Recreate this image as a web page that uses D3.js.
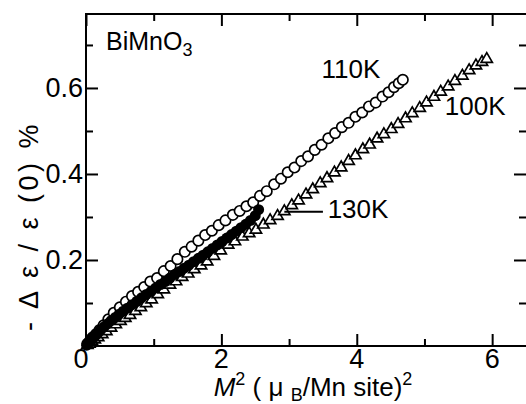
<!DOCTYPE html>
<html>
<head>
<meta charset="utf-8">
<script src="https://cdn.jsdelivr.net/npm/d3@7"></script>
<style>
  body { margin: 0; background: #fff; }
  text { font-family: "Liberation Sans", Arial, sans-serif; fill: #000; }
</style>
</head>
<body>
<div id="chart"></div>
<script>
// M^2 values and -d eps / eps(0) (%) for each temperature
var x110 = [0.02,0.06,0.10,0.15,0.20,0.26,0.33,0.41,0.50,0.59,0.68,0.77,0.86,0.95,1.05,1.15,1.25,1.35,1.46,1.56,1.66,1.76,1.86,1.96,2.06,2.17,2.27,2.37,2.47,2.57,2.67,2.78,2.88,2.98,3.08,3.18,3.28,3.38,3.48,3.58,3.68,3.78,3.88,3.98,4.08,4.18,4.28,4.38,4.47,4.55,4.62,4.68];
var y110 = [0.005,0.012,0.020,0.028,0.037,0.048,0.062,0.077,0.090,0.103,0.116,0.126,0.137,0.150,0.158,0.174,0.186,0.202,0.219,0.231,0.245,0.258,0.268,0.281,0.292,0.305,0.314,0.325,0.334,0.349,0.360,0.376,0.389,0.404,0.415,0.430,0.441,0.456,0.468,0.483,0.495,0.509,0.519,0.533,0.543,0.557,0.566,0.580,0.590,0.602,0.611,0.619];

var x100 = [0.02,0.05,0.09,0.13,0.18,0.24,0.30,0.37,0.44,0.51,0.58,0.65,0.73,0.81,0.89,0.97,1.06,1.15,1.24,1.33,1.42,1.51,1.60,1.70,1.79,1.89,1.99,2.10,2.20,2.31,2.41,2.51,2.62,2.72,2.83,2.93,3.04,3.14,3.25,3.35,3.46,3.56,3.67,3.77,3.88,3.98,4.09,4.19,4.30,4.40,4.51,4.61,4.72,4.82,4.93,5.03,5.14,5.24,5.35,5.45,5.56,5.66,5.76,5.85,5.92];
var y100 = [0.002,0.005,0.010,0.015,0.020,0.027,0.034,0.042,0.050,0.058,0.065,0.072,0.081,0.090,0.099,0.108,0.120,0.131,0.142,0.150,0.160,0.168,0.178,0.187,0.196,0.209,0.222,0.235,0.243,0.254,0.262,0.270,0.282,0.292,0.302,0.313,0.327,0.338,0.352,0.364,0.378,0.390,0.403,0.415,0.430,0.443,0.457,0.468,0.482,0.492,0.504,0.516,0.529,0.541,0.553,0.566,0.579,0.591,0.603,0.616,0.628,0.641,0.652,0.660,0.667];

var x130 = [0.01,0.03,0.05,0.08,0.11,0.14,0.18,0.22,0.27,0.32,0.37,0.43,0.49,0.55,0.61,0.68,0.75,0.82,0.89,0.96,1.03,1.10,1.17,1.24,1.31,1.38,1.45,1.52,1.59,1.66,1.73,1.80,1.87,1.94,2.01,2.08,2.15,2.22,2.29,2.36,2.43,2.50,2.55];
var y130 = [0.002,0.006,0.010,0.015,0.020,0.025,0.031,0.038,0.045,0.052,0.059,0.066,0.074,0.081,0.088,0.096,0.104,0.112,0.120,0.127,0.135,0.143,0.150,0.158,0.166,0.173,0.181,0.188,0.196,0.204,0.211,0.219,0.227,0.235,0.243,0.251,0.259,0.267,0.275,0.283,0.292,0.303,0.317];

var xMajor = [0, 2, 4, 6];
var xMinor = [1, 3, 5];
var yMajor = [0.2, 0.4, 0.6];
var yMinor = [0.1, 0.3, 0.5, 0.7];

var svgWidth = 526;
var svgHeight = 404;
var margin = {top: 14, right: 0, bottom: 58, left: 86};
var plotWidth = svgWidth - margin.left - margin.right;
var plotHeight = svgHeight - margin.top - margin.bottom;

var svg = d3.select("#chart")
    .append("svg")
    .attr("width", svgWidth)
    .attr("height", svgHeight);

var plot = svg.append("g")
    .attr("transform", `translate(${margin.left},${margin.top})`);

var scX = d3.scaleLinear().domain([0, 6.5]).range([0, plotWidth]);
var scY = d3.scaleLinear().domain([0, 0.772]).range([plotHeight, 0]);

function zip(xs, ys) { return xs.map((v, i) => ({x: v, y: ys[i]})); }

// frame
plot.append("rect")
    .attr("x", 0).attr("y", 0)
    .attr("width", plotWidth + 4).attr("height", plotHeight)
    .attr("fill", "none").attr("stroke", "#000").attr("stroke-width", 2);

// ticks (inward, all four sides)
function tickSet(axis, vals, len) {
  return axis.tickValues(vals).tickSizeInner(-len).tickSizeOuter(0).tickFormat("");
}
var axes = [
  [d3.axisBottom(scX), `translate(0,${plotHeight})`, xMajor, 12],
  [d3.axisBottom(scX), `translate(0,${plotHeight})`, xMinor, 7],
  [d3.axisTop(scX), "translate(0,0)", xMajor, 12],
  [d3.axisTop(scX), "translate(0,0)", xMinor, 7],
  [d3.axisLeft(scY), "translate(0,0)", yMajor, 12],
  [d3.axisLeft(scY), "translate(0,0)", yMinor, 7],
  [d3.axisRight(scY), `translate(${plotWidth},0)`, yMajor, 12],
  [d3.axisRight(scY), `translate(${plotWidth},0)`, yMinor, 7]
];
axes.forEach(function(a) {
  var g = plot.append("g").attr("transform", a[1]).call(tickSet(a[0], a[2], a[3]));
  g.select(".domain").remove();
  g.selectAll("line").attr("stroke", "#000").attr("stroke-width", 2);
});

// tick labels
plot.selectAll(".xl").data(xMajor).enter().append("text")
    .attr("x", d => scX(d) + (d === 0 ? -5 : 0))
    .attr("y", plotHeight + 22)
    .attr("text-anchor", "middle")
    .attr("font-size", 27)
    .text(d => d);
plot.selectAll(".yl").data(yMajor).enter().append("text")
    .attr("x", -3)
    .attr("y", d => scY(d) + 9)
    .attr("text-anchor", "end")
    .attr("font-size", 27)
    .text(d => d3.format(".1f")(d));

// data
plot.append("g").selectAll("path")
    .data(zip(x100, y100)).enter().append("path")
    .attr("d", d3.symbol(d3.symbolTriangle, 55))
    .attr("transform", d => `translate(${scX(d.x)},${scY(d.y)})`)
    .attr("fill", "#fff").attr("stroke", "#000").attr("stroke-width", 1.7);

plot.append("g").selectAll("circle")
    .data(zip(x110, y110)).enter().append("circle")
    .attr("cx", d => scX(d.x)).attr("cy", d => scY(d.y)).attr("r", 5.2)
    .attr("fill", "#fff").attr("stroke", "#000").attr("stroke-width", 1.7);

plot.append("g").selectAll("circle")
    .data(zip(x130, y130)).enter().append("circle")
    .attr("cx", d => scX(d.x)).attr("cy", d => scY(d.y)).attr("r", 5.5)
    .attr("fill", "#000");

// annotations
plot.append("text").attr("x", 20).attr("y", 36).attr("font-size", 25)
    .html('BiMnO<tspan dy="6" font-size="18">3</tspan>');
plot.append("text").attr("x", scX(3.48)).attr("y", scY(0.623)).attr("font-size", 26).text("110K");
plot.append("text").attr("x", scX(5.3)).attr("y", scY(0.537)).attr("font-size", 26).text("100K");
plot.append("line")
    .attr("x1", scX(2.93)).attr("x2", scX(3.5))
    .attr("y1", scY(0.312)).attr("y2", scY(0.312))
    .attr("stroke", "#000").attr("stroke-width", 2);
plot.append("text").attr("x", scX(3.57)).attr("y", scY(0.297)).attr("font-size", 26).text("130K");

// axis titles
svg.append("text")
    .attr("transform", "translate(38,226) rotate(-90)")
    .attr("text-anchor", "middle")
    .attr("font-size", 27)
    .attr("letter-spacing", 3.5)
    .text("- \u0394 \u03b5 / \u03b5 (0) %");
svg.append("text")
    .attr("x", 313).attr("y", 396)
    .attr("text-anchor", "middle")
    .attr("font-size", 26)
    .html('<tspan font-style="italic">M</tspan><tspan dy="-11" font-size="18">2</tspan>'
      + '<tspan dy="11"> ( \u03bc </tspan><tspan dy="5" font-size="18">B</tspan>'
      + '<tspan dy="-5">/Mn site)</tspan><tspan dy="-11" font-size="18">2</tspan>');
</script>
</body>
</html>
